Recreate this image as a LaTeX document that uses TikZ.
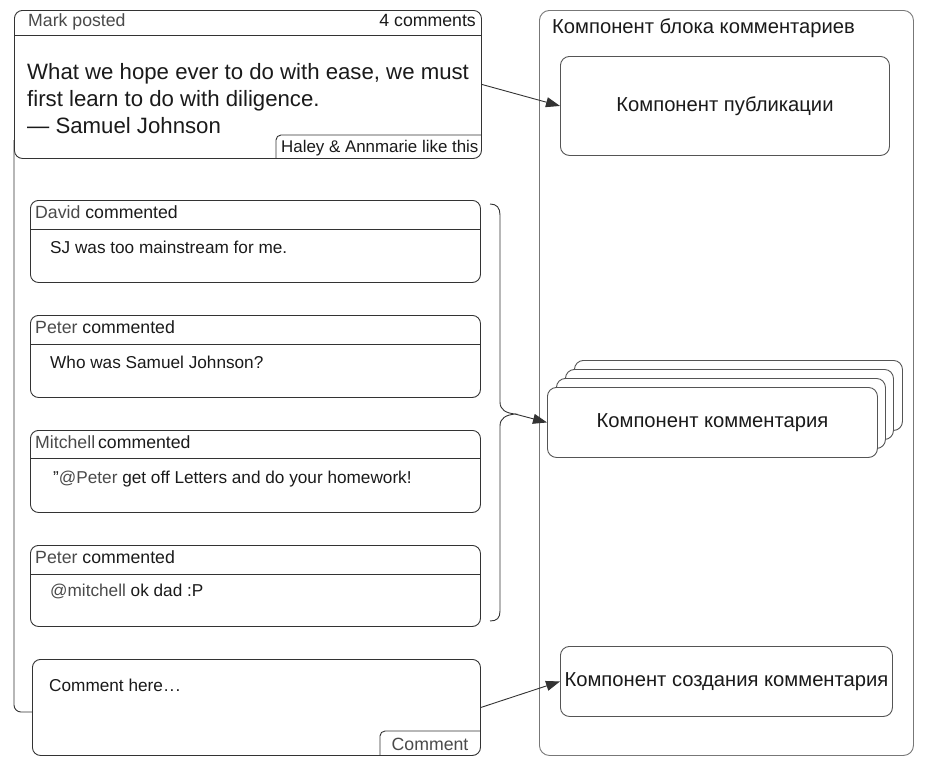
\documentclass[tikz,border=0pt]{standalone}
\usepackage{fontspec}
\setmainfont{Liberation Sans}
\usetikzlibrary{arrows.meta,calc}
\definecolor{lc}{HTML}{333333}
\definecolor{rc}{HTML}{777777}
\definecolor{ic}{HTML}{555555}
\definecolor{tc}{HTML}{1A1A1A}
\definecolor{nc}{HTML}{4A4A4A}
\begin{document}
\begin{tikzpicture}[x=1pt,y=-1pt,
  lbox/.style={draw=lc, line width=0.9pt, rounded corners=8pt, anchor=north west, inner sep=0pt},
  rbox/.style={draw=ic, line width=0.9pt, rounded corners=9pt, anchor=north west, inner sep=0pt, fill=white,
     font=\fontsize{20.2}{24}\selectfont, text=tc},
  hd/.style={anchor=base west, inner sep=0pt, font=\fontsize{17.7}{21}\selectfont, text=tc},
  bd/.style={anchor=base west, inner sep=0pt, font=\fontsize{17.2}{21}\selectfont, text=tc},
  qt/.style={anchor=base west, inner sep=0pt, font=\fontsize{22.2}{26}\selectfont, text=tc},
  sep/.style={draw=lc, line width=0.9pt},
  conn/.style={draw=lc, line width=0.9pt, -{Triangle[length=14pt,width=10pt]}},
  brc/.style={draw=lc, line width=0.9pt}
]
\useasboundingbox (0,0) rectangle (936,779);

% ---------- right frame ----------
\node[draw=rc, line width=0.9pt, rounded corners=10pt, anchor=north west, inner sep=0pt,
      minimum width=374pt, minimum height=745pt] (frame) at (539,10) {};
\node[hd, font=\fontsize{20.2}{24}\selectfont] (ftitle) at (552,33) {Компонент блока комментариев};

\node[rbox, minimum width=329pt, minimum height=99pt] (pub) at (560,56) {Компонент публикации};

\node[rbox, minimum width=328pt, minimum height=70pt] (s4) at (574,360) {};
\node[rbox, minimum width=328pt, minimum height=70pt] (s3) at (565,369) {};
\node[rbox, minimum width=329pt, minimum height=70pt] (s2) at (556,378) {};
\node[rbox, minimum width=330pt, minimum height=70pt] (cmp) at (547,387) {Компонент комментария};

\node[rbox, minimum width=332pt, minimum height=70pt] (create) at (560,646) {Компонент создания комментария};

% ---------- post ----------
\draw[lc, line width=0.9pt, rounded corners=7pt] (14,140) -- (14,712) -- (32,712);
\node[lbox, fill=white, minimum width=467pt, minimum height=148pt] (post) at (14,10) {};
\draw[sep] ($(post.north west)+(0,25)$) -- ($(post.north east)+(0,25)$);
\node[hd, text=nc] (mark) at (28,27) {Mark posted};
\node[hd, anchor=base east] (count) at (476,27) {4 comments};
\node[qt] (q1) at (27,79) {What we hope ever to do with ease, we must};
\node[qt] (q2) at (27,106) {first learn to do with diligence.};
\node[qt] (q3) at (27,133) {— Samuel Johnson};
\draw[lc, line width=0.9pt, rounded corners=5pt] (481,135) -- (276,135) -- (276,158);
\node[hd, font=\fontsize{16.9}{20}\selectfont] (likes) at (281,152) {Haley \& Annmarie like this};

% ---------- comments ----------
\node[lbox, minimum width=450pt, minimum height=82pt] (c1) at (30,200) {};
\draw[sep] ($(c1.north west)+(0,29)$) -- ($(c1.north east)+(0,29)$);
\node[hd] (c1h) at (35,218) {\textcolor{nc}{David} commented};
\node[bd] (c1b) at (50,253) {SJ was too mainstream for me.};

\node[lbox, minimum width=450pt, minimum height=82pt] (c2) at (30,315) {};
\draw[sep] ($(c2.north west)+(0,29)$) -- ($(c2.north east)+(0,29)$);
\node[hd] (c2h) at (35,333) {\textcolor{nc}{Peter} commented};
\node[bd] (c2b) at (50,368) {Who was Samuel Johnson?};

\node[lbox, minimum width=450pt, minimum height=82pt] (c3) at (30,430) {};
\draw[sep] ($(c3.north west)+(0,28)$) -- ($(c3.north east)+(0,28)$);
\node[hd] (c3h) at (35,448) {\textcolor{nc}{Mitchell}\kern-2pt\ commented};
\node[bd] (c3b) at (53,483) {"\textcolor{nc}{@Peter} get off Letters and do your homework!};

\node[lbox, minimum width=450pt, minimum height=81pt] (c4) at (30,545) {};
\draw[sep] ($(c4.north west)+(0,29)$) -- ($(c4.north east)+(0,29)$);
\node[hd] (c4h) at (35,563) {\textcolor{nc}{Peter} commented};
\node[bd] (c4b) at (50,596) {\textcolor{nc}{@mitchell} ok dad :P};

% ---------- input ----------
\node[lbox, fill=white, minimum width=448pt, minimum height=96pt] (inp) at (32,659) {};
\node[bd] (ph) at (49,691) {Comment here\kern1pt.\kern1pt.\kern1pt.};
\draw[lc, line width=0.9pt, rounded corners=5pt] (480,731) -- (380,731) -- (380,755);
\node[hd, anchor=base, text=nc] (btn) at (430,750) {Comment};

% ---------- brace ----------
\coordinate (bt) at (515,414);
\draw[brc] (490,204) .. controls (497,204) and (500,208) .. (500,215) -- (500,402)
   .. controls (500,410) and (506,413) .. (bt)
   .. controls (506,415) and (500,418) .. (500,426) -- (500,611)
   .. controls (500,618) and (497,621) .. (490,621);

% ---------- connectors ----------
\draw[conn] (post.east) -- (pub.west);
\draw[conn] (bt) -- (cmp.west);
\draw[conn] (inp.east) -- (create.west);
\end{tikzpicture}
\end{document}
